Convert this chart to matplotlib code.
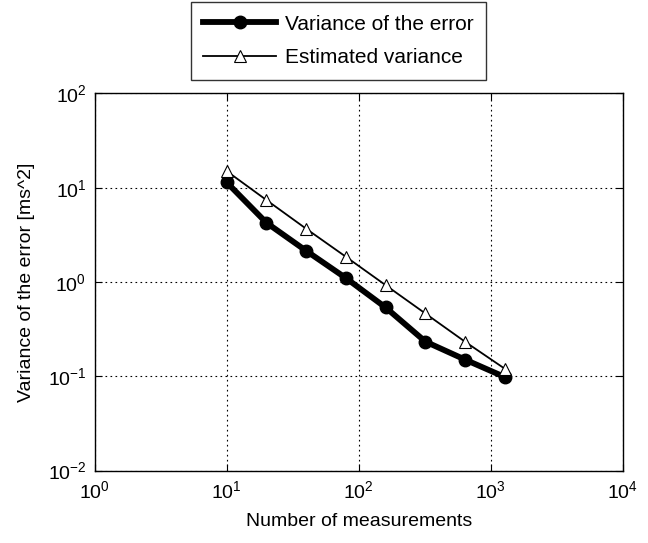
import matplotlib
matplotlib.use("Agg")
import matplotlib.pyplot as plt

plt.rcParams['font.family'] = ['Liberation Sans', 'DejaVu Sans']
plt.rcParams['mathtext.fontset'] = 'custom'
plt.rcParams['mathtext.rm'] = 'Liberation Sans'
plt.rcParams['axes.unicode_minus'] = False

n_meas = [10, 20, 40, 80, 160, 320, 640, 1280]
var_error = [11.4, 4.25, 2.14, 1.10, 0.536, 0.233, 0.150, 0.098]
var_est = [15.0, 7.4, 3.67, 1.85, 0.925, 0.463, 0.232, 0.12]

fig = plt.figure(figsize=(6.48, 5.43), dpi=100)
ax = fig.add_axes([0.146, 0.1335, 0.815, 0.6945])

l1, = ax.plot(n_meas, var_error, color='black', lw=4.2, marker='o', markersize=9,
              label='Variance of the error')
l2, = ax.plot(n_meas, var_est, color='black', lw=1.3, marker='^', markersize=8,
              markerfacecolor='white', markeredgewidth=0.8, label='Estimated variance')

ax.set_xscale('log')
ax.set_yscale('log')
ax.set_xlim(1, 1e4)
ax.set_ylim(1e-2, 1e2)
ax.set_xticks([1, 10, 100, 1000, 10000])
ax.set_yticks([1e-2, 1e-1, 1, 10, 100])
ax.minorticks_off()
ax.tick_params(direction='in', top=True, right=True, length=5, labelsize=14, pad=7)
ax.tick_params(axis='y', pad=6)
ax.grid(True, color='black', linestyle=(0, (1.5, 3)), lw=0.8)
for s in ax.spines.values():
    s.set_linewidth(1.0)

ax.set_xlabel('Number of measurements', fontsize=14, labelpad=8)
ax.set_ylabel('Variance of the error [ms^2]', fontsize=14, labelpad=9)

fig.legend(handles=[l1, l2], loc='upper center', bbox_to_anchor=(0.522, 0.996),
           fontsize=15, frameon=True, fancybox=False, edgecolor='black',
           handlelength=3.5, borderpad=0.6, labelspacing=0.7, handletextpad=0.4,
           borderaxespad=0)

fig.savefig('out.png', dpi=100)
